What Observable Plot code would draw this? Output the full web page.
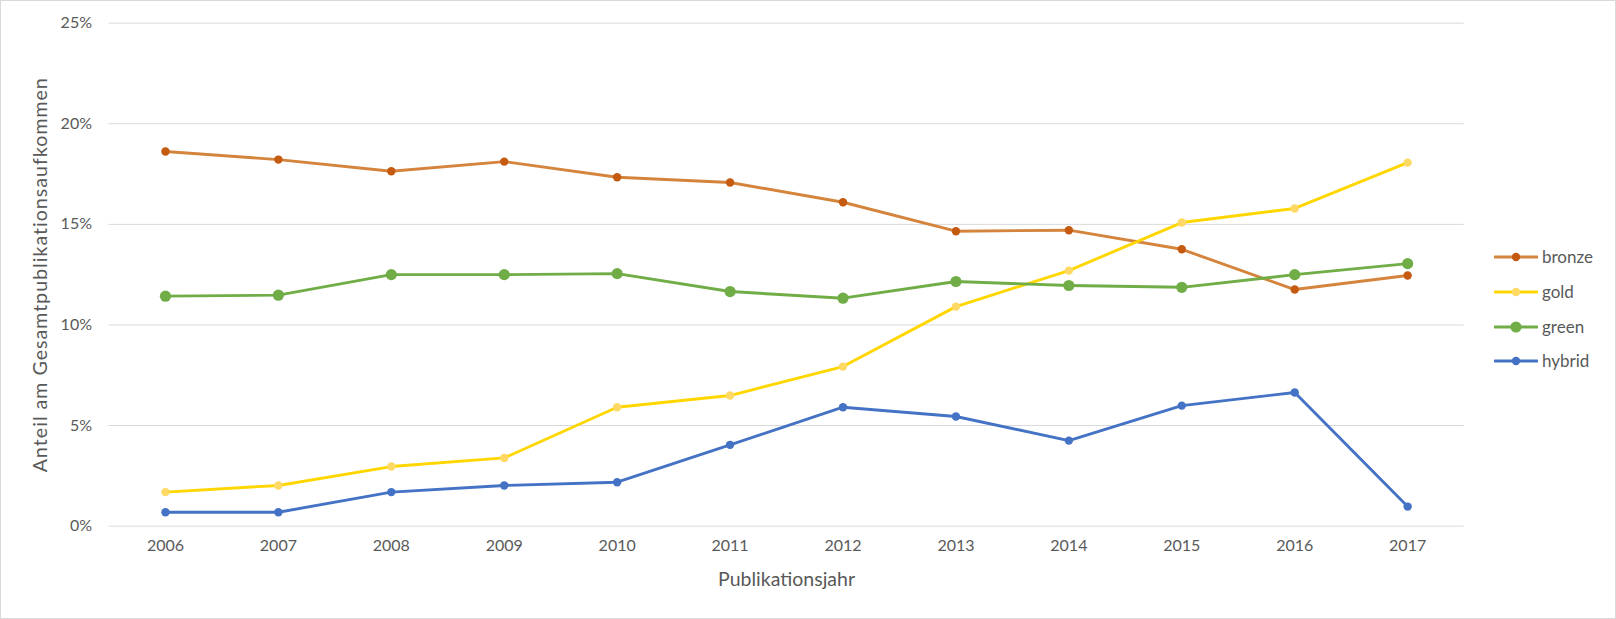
<!DOCTYPE html>
<html>
<head>
<meta charset="utf-8">
<script src="https://cdn.jsdelivr.net/npm/d3@7"></script>
<script src="https://cdn.jsdelivr.net/npm/@observablehq/plot@0.6"></script>
<style>
  body { margin: 0; background: #fff; }
  #wrap { position: relative; width: 1616px; height: 619px; }
  #legend { position: absolute; left: 1494px; top: 0; font-family: Lato, "Open Sans", sans-serif; font-size: 17px; color: #595959; }
  .item { position: absolute; left: 0; display: flex; align-items: center; white-space: nowrap; }
  .item svg { display: block; margin-right: 4px; }
  g[aria-label="y-axis label"] text { letter-spacing: 1.05px; }
</style>
</head>
<body>
<div id="wrap"><div id="legend"></div></div>
<script>
const years = [2006, 2007, 2008, 2009, 2010, 2011, 2012, 2013, 2014, 2015, 2016, 2017];
const bronze = [18.62, 18.22, 17.64, 18.12, 17.34, 17.08, 16.10, 14.66, 14.71, 13.76, 11.76, 12.46];
const gold   = [1.69, 2.02, 2.96, 3.39, 5.91, 6.49, 7.93, 10.91, 12.70, 15.09, 15.79, 18.07];
const green  = [11.43, 11.48, 12.50, 12.50, 12.55, 11.66, 11.33, 12.16, 11.96, 11.87, 12.50, 13.05];
const hybrid = [0.69, 0.69, 1.69, 2.02, 2.18, 4.04, 5.91, 5.45, 4.25, 5.99, 6.64, 0.97];
const seriesNames = ["bronze", "gold", "green", "hybrid"];
const yTicks = [0, 0.05, 0.10, 0.15, 0.20, 0.25];

const lineColors = {bronze: "#D4843C", gold: "#FFD600", green: "#70AD47", hybrid: "#4472C4"};
const dotColors  = {bronze: "#C55A11", gold: "#FFD966", green: "#70AD47", hybrid: "#4472C4"};
const dotR       = {bronze: 4.2, gold: 4.2, green: 5.6, hybrid: 4.2};

const values = {bronze, gold, green, hybrid};
const table = seriesNames.flatMap(s => years.map((yr, i) => ({series: s, year: String(yr), value: values[s][i] / 100})));

const font = 'Lato, "Open Sans", sans-serif';

const chart = Plot.plot({
  width: 1616,
  height: 619,
  marginLeft: 108.5,
  marginRight: 152.4,
  marginTop: 22.7,
  marginBottom: 93.4,
  style: {fontFamily: font, fontSize: "16px", color: "#595959", background: "#fff", outline: "1px solid #d9d9d9", outlineOffset: "-1px"},
  x: {type: "point", domain: years.map(String), padding: 0.5, round: false, label: null},
  y: {domain: [0, 0.25], label: null},
  marks: [
    Plot.gridY(yTicks, {stroke: "#d9d9d9", strokeOpacity: 1, strokeWidth: 1}),
    Plot.axisY(yTicks, {tickSize: 0, tickPadding: 17, tickFormat: d3.format(".0%"), fill: "#595959", fontSize: 16}),
    Plot.axisX({tickSize: 0, tickPadding: 14, fill: "#595959", fontSize: 16, label: null}),
    Plot.axisY({tickSize: 0, ticks: [], label: "Anteil am Gesamtpublikationsaufkommen", labelAnchor: "center", labelArrow: "none",
      labelOffset: 76, fontSize: 19.5, fill: "#595959"}),
    Plot.axisX({tickSize: 0, ticks: [], label: "Publikationsjahr", labelAnchor: "center", labelArrow: "none",
      labelOffset: 60, fontSize: 19.5, fill: "#595959"}),
    ...seriesNames.map(s => Plot.line(table.filter(d => d.series === s), {x: "year", y: "value", stroke: lineColors[s], strokeWidth: 2.9, strokeLinejoin: "round", strokeLinecap: "round"})),
    ...seriesNames.map(s => Plot.dot(table.filter(d => d.series === s), {x: "year", y: "value", r: dotR[s], fill: dotColors[s], stroke: "none"}))
  ]
});
const wrap = document.getElementById("wrap");
wrap.insertBefore(chart, wrap.firstChild);

// Legend
const legend = document.getElementById("legend");
const legendTop = [256.5, 291.7, 326.7, 360.9];
seriesNames.forEach((s, i) => {
  const div = document.createElement("div");
  div.className = "item";
  div.style.top = (legendTop[i] - 10) + "px";
  div.style.height = "20px";
  div.innerHTML = `<svg width="44" height="20"><line x1="1" x2="43" y1="10" y2="10" stroke="${lineColors[s]}" stroke-width="2.9" stroke-linecap="round"/><circle cx="22" cy="10" r="${dotR[s]}" fill="${dotColors[s]}"/></svg><span>${s}</span>`;
  legend.appendChild(div);
});
</script>
</body>
</html>
